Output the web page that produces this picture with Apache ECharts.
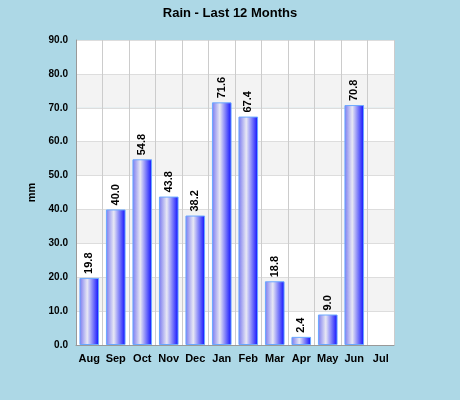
<!DOCTYPE html>
<html><head><meta charset="utf-8">
<script src="https://cdn.jsdelivr.net/npm/echarts@6/dist/echarts.min.js"></script>
<style>html,body{margin:0;padding:0;background:#add8e6}#c{width:460px;height:400px}</style>
</head><body><div id="c"></div>
<script>
const categories = ['Aug','Sep','Oct','Nov','Dec','Jan','Feb','Mar','Apr','May','Jun','Jul'];
const rain = [19.8,40.0,54.8,43.8,38.2,71.6,67.4,18.8,2.4,9.0,70.8,null];
const chart = echarts.init(document.getElementById('c'));
chart.setOption({
  backgroundColor:'#add8e6',
  animation:false,
  title:{text:'Rain - Last 12 Months',left:'center',top:2,textStyle:{fontFamily:'Liberation Sans',fontSize:13,fontWeight:'bold',color:'#000'}},
  grid:{left:76,right:66,top:40,bottom:55},
  xAxis:{type:'category',data:categories,
    axisLine:{lineStyle:{color:'#999'}},axisTick:{show:false},
    splitLine:{show:true,lineStyle:{color:'#ccc'}},
    axisLabel:{color:'#000',fontWeight:'bold',fontSize:11,fontFamily:'Liberation Sans',interval:0}},
  yAxis:{type:'value',min:0,max:90,interval:10,name:'mm',nameLocation:'middle',nameGap:38,
    nameTextStyle:{fontWeight:'bold',fontSize:11,fontFamily:'Liberation Sans',color:'#000'},
    axisLine:{show:true,lineStyle:{color:'#999'}},axisTick:{show:false},
    axisLabel:{formatter:v=>v.toFixed(1),color:'#000',fontWeight:'bold',fontSize:10,fontFamily:'Liberation Sans'},
    splitLine:{lineStyle:{color:'#ddd'}},
    splitArea:{show:true,areaStyle:{color:['#ffffff','#f3f3f3']}}},
  series:[{type:'bar',data:rain,barWidth:'74%',
    itemStyle:{borderColor:'#6aa8ff',borderWidth:1,
      color:new echarts.graphic.LinearGradient(0,0,1,0,[
        {offset:0,color:'#7878f0'},{offset:0.4,color:'#e8e8f4'},{offset:1,color:'#0a0aff'}])},
    label:{show:true,position:'top',rotate:90,align:'left',verticalAlign:'middle',distance:4,
      formatter:p=>p.value==null?'':p.value.toFixed(1),
      color:'#000',fontWeight:'bold',fontSize:11,fontFamily:'Liberation Sans'}}]
});
</script></body></html>
